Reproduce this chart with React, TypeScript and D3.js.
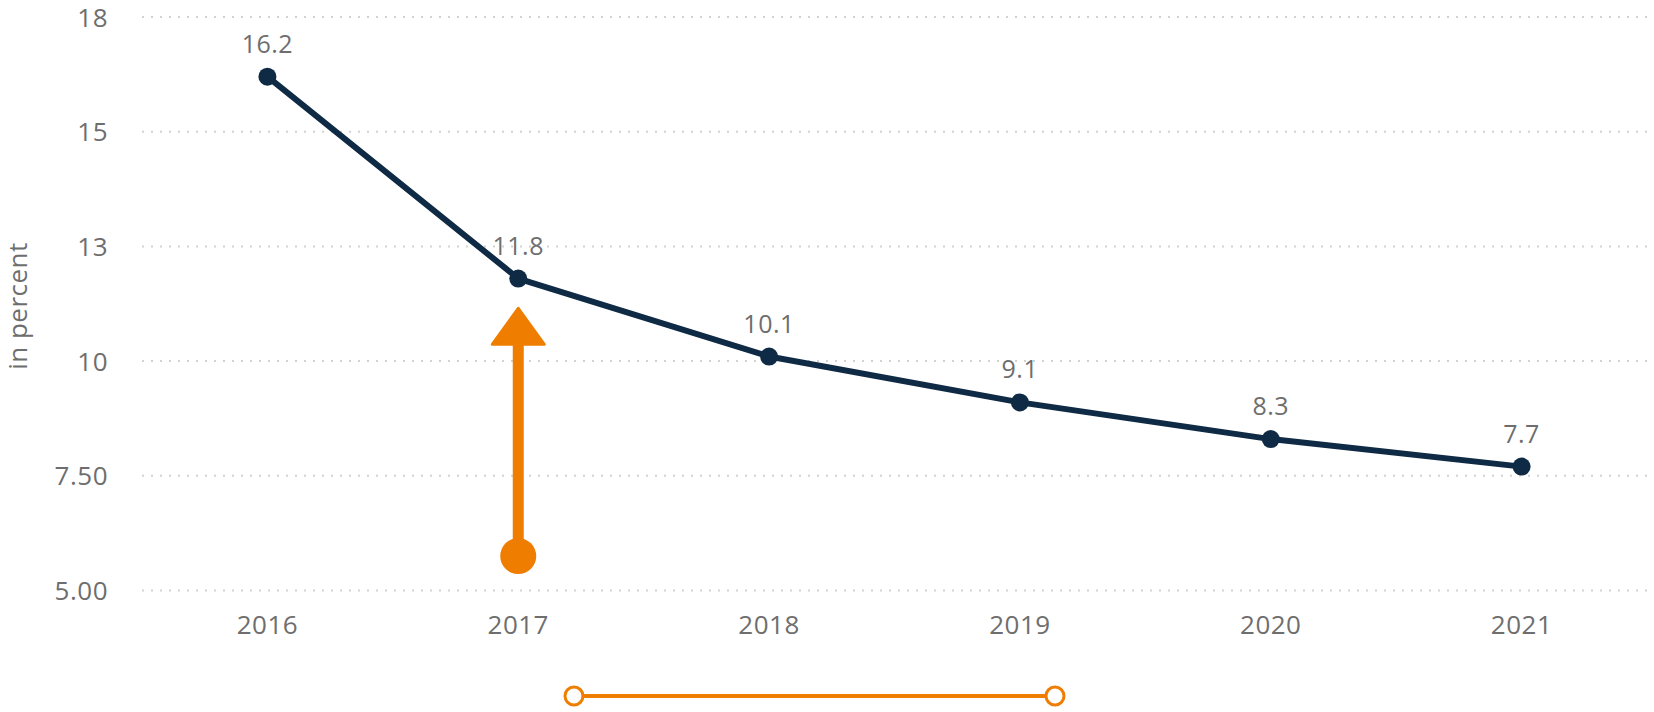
import React from "react";
import * as d3 from "d3";

const years = ["2016", "2017", "2018", "2019", "2020", "2021"];
const values = [16.2, 11.8, 10.1, 9.1, 8.3, 7.7];
const valueLabels = ["16.2", "11.8", "10.1", "9.1", "8.3", "7.7"];
const yTicks = [5, 7.5, 10, 12.5, 15, 17.5];
const yTickLabels = ["5.00", "7.50", "10", "13", "15", "18"];
const yTitle = "in percent";
const arrowYear = "2017";
const arrowFrom = 5.75;
const arrowTo = 11.15;

const W = 1654;
const H = 712;
const NAVY = "#0f2a44";
const ORANGE = "#ef7d00";
const GRAY = "#6e6e6e";
const FONT = "'Open Sans', 'DejaVu Sans', sans-serif";

export default function App() {
  const x = d3.scaleBand<string>().domain(years).range([142, 1647]);
  const cx = (d: string) => (x(d) as number) + x.bandwidth() / 2;
  const y = d3.scaleLinear().domain([5, 17.5]).range([590.5, 17]);

  const line = d3
    .line<number>()
    .x((_, i) => cx(years[i]))
    .y((v) => y(v));

  const ax = cx(arrowYear);
  const tipY = y(arrowTo);
  const baseY = tipY + 36;
  const hw = 26;

  return (
    <div style={{ position: "absolute", left: 0, top: 0 }}>
      <svg width={W} height={H} style={{ display: "block" }}>
        <rect width={W} height={H} fill="#ffffff" />
        {yTicks.map((t, i) => (
          <g key={t}>
            <line
              x1={142}
              x2={1650}
              y1={y(t)}
              y2={y(t)}
              stroke="#d2d2d2"
              strokeWidth={2}
              strokeDasharray="2 7"
            />
            <text
              x={108}
              y={y(t) + 9.5}
              textAnchor="end"
              fontFamily={FONT}
              fontSize={26}
              letterSpacing={0.5}
              fill={GRAY}
            >
              {yTickLabels[i]}
            </text>
          </g>
        ))}
        <text
          transform={`translate(27,306) rotate(-90)`}
          textAnchor="middle"
          fontFamily={FONT}
          fontSize={26}
          letterSpacing={0.5}
          fill={GRAY}
        >
          {yTitle}
        </text>
        {years.map((yr) => (
          <text
            key={yr}
            x={cx(yr)}
            y={634}
            textAnchor="middle"
            fontFamily={FONT}
            fontSize={26}
            letterSpacing={0.5}
            fill={GRAY}
          >
            {yr}
          </text>
        ))}
        <path
          d={line(values) as string}
          fill="none"
          stroke={NAVY}
          strokeWidth={6}
          strokeLinejoin="round"
        />
        {values.map((v, i) => (
          <g key={i}>
            <circle cx={cx(years[i])} cy={y(v)} r={9} fill={NAVY} />
            <text
              x={cx(years[i])}
              y={y(v) - 24}
              textAnchor="middle"
              fontFamily={FONT}
              fontSize={25}
              letterSpacing={0.5}
              fill={GRAY}
            >
              {valueLabels[i]}
            </text>
          </g>
        ))}
        {/* annotation arrow */}
        <line
          x1={ax}
          x2={ax}
          y1={y(arrowFrom)}
          y2={baseY}
          stroke={ORANGE}
          strokeWidth={11}
        />
        <circle cx={ax} cy={y(arrowFrom)} r={18} fill={ORANGE} />
        <path
          d={`M${ax},${tipY} L${ax + hw},${baseY} L${ax - hw},${baseY} Z`}
          fill={ORANGE}
          stroke={ORANGE}
          strokeWidth={3}
          strokeLinejoin="round"
        />
        {/* range slider */}
        <line x1={574} x2={1055} y1={696} y2={696} stroke={ORANGE} strokeWidth={4} />
        <circle cx={574} cy={696} r={9} fill="#ffffff" stroke={ORANGE} strokeWidth={3} />
        <circle cx={1055} cy={696} r={9} fill="#ffffff" stroke={ORANGE} strokeWidth={3} />
      </svg>
    </div>
  );
}
